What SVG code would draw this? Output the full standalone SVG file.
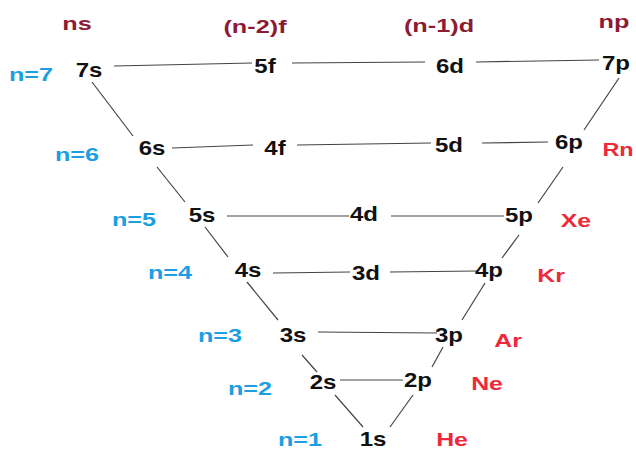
<svg xmlns="http://www.w3.org/2000/svg" width="636" height="451" viewBox="0 0 636 451">
<style>
text{font-family:"Liberation Sans",Arial,sans-serif;font-weight:bold;text-anchor:middle}
.o{font-size:20px;fill:#111}
.n{font-size:18px;fill:#1b9fe2}
.e{font-size:18px;fill:#ee2a3a}
.h{font-size:19px;fill:#8c1c34}
.c line{stroke:#444;stroke-width:1.2;fill:none}
</style>
<rect width="636" height="451" fill="#fff"/>
<g id="connectors" class="c">
<line x1="114" y1="66" x2="252" y2="63"/>
<line x1="292" y1="63" x2="425" y2="62"/>
<line x1="476" y1="62" x2="599" y2="60"/>
<line x1="172" y1="148" x2="253" y2="145"/>
<line x1="297" y1="145" x2="431" y2="143"/>
<line x1="482" y1="143" x2="548" y2="142"/>
<line x1="227" y1="216" x2="349" y2="216"/>
<line x1="391" y1="216" x2="504" y2="216"/>
<line x1="273" y1="273" x2="350" y2="272"/>
<line x1="390" y1="272" x2="477" y2="271"/>
<line x1="318" y1="332" x2="437" y2="333"/>
<line x1="340" y1="380" x2="403" y2="380"/>
<line x1="92" y1="82" x2="133" y2="136"/>
<line x1="157" y1="167" x2="185" y2="202"/>
<line x1="205" y1="227" x2="228" y2="257"/>
<line x1="247" y1="282" x2="278" y2="320"/>
<line x1="302" y1="355" x2="317" y2="372"/>
<line x1="335" y1="395" x2="363" y2="427"/>
<line x1="619" y1="78" x2="584" y2="130"/>
<line x1="563" y1="167" x2="538" y2="203"/>
<line x1="519" y1="235" x2="502" y2="258"/>
<line x1="485" y1="283" x2="462" y2="320"/>
<line x1="443" y1="347" x2="432" y2="367"/>
<line x1="413" y1="395" x2="390" y2="427"/>
</g>
<g id="headers">
<text class="h" transform="matrix(1.33 0 0 1 77 30)">ns</text>
<text class="h" transform="matrix(1.33 0 0 1 255 33)">(n-2)f</text>
<text class="h" transform="matrix(1.33 0 0 1 439 32)">(n-1)d</text>
<text class="h" transform="matrix(1.33 0 0 1 614 28)">np</text>
</g>
<g id="shells">
<text class="n" transform="matrix(1.4 0 0 1 31 81)">n=7</text>
<text class="n" transform="matrix(1.4 0 0 1 77 161)">n=6</text>
<text class="n" transform="matrix(1.4 0 0 1 134 226)">n=5</text>
<text class="n" transform="matrix(1.4 0 0 1 170 279)">n=4</text>
<text class="n" transform="matrix(1.4 0 0 1 220 342)">n=3</text>
<text class="n" transform="matrix(1.4 0 0 1 250 395)">n=2</text>
<text class="n" transform="matrix(1.4 0 0 1 300 446)">n=1</text>
</g>
<g id="gases">
<text class="e" transform="matrix(1.3 0 0 1 618 156)">Rn</text>
<text class="e" transform="matrix(1.38 0 0 1 576 227)">Xe</text>
<text class="e" transform="matrix(1.38 0 0 1 551 282)">Kr</text>
<text class="e" transform="matrix(1.38 0 0 1 508 347)">Ar</text>
<text class="e" transform="matrix(1.38 0 0 1 487 390)">Ne</text>
<text class="e" transform="matrix(1.38 0 0 1 452 446)">He</text>
</g>
<g id="o7s"><text class="o" transform="matrix(1.2 0 0 1 89 77)">7s</text></g>
<g id="o5f"><text class="o" transform="matrix(1.2 0 0 1 265 73)">5f</text></g>
<g id="o6d"><text class="o" transform="matrix(1.2 0 0 1 450 73)">6d</text></g>
<g id="o7p"><text class="o" transform="matrix(1.2 0 0 1 616 70)">7p</text></g>
<g id="o6s"><text class="o" transform="matrix(1.2 0 0 1 152 155)">6s</text></g>
<g id="o4f"><text class="o" transform="matrix(1.2 0 0 1 275 155)">4f</text></g>
<g id="o5d"><text class="o" transform="matrix(1.2 0 0 1 449 152)">5d</text></g>
<g id="o6p"><text class="o" transform="matrix(1.2 0 0 1 569 149)">6p</text></g>
<g id="o5s"><text class="o" transform="matrix(1.2 0 0 1 202 222)">5s</text></g>
<g id="o4d"><text class="o" transform="matrix(1.2 0 0 1 364 221)">4d</text></g>
<g id="o5p"><text class="o" transform="matrix(1.2 0 0 1 519 222)">5p</text></g>
<g id="o4s"><text class="o" transform="matrix(1.2 0 0 1 248 277)">4s</text></g>
<g id="o3d"><text class="o" transform="matrix(1.2 0 0 1 366 280)">3d</text></g>
<g id="o4p"><text class="o" transform="matrix(1.2 0 0 1 489 277)">4p</text></g>
<g id="o3s"><text class="o" transform="matrix(1.2 0 0 1 293 342)">3s</text></g>
<g id="o3p"><text class="o" transform="matrix(1.2 0 0 1 449 342)">3p</text></g>
<g id="o2s"><text class="o" transform="matrix(1.2 0 0 1 323 389)">2s</text></g>
<g id="o2p"><text class="o" transform="matrix(1.2 0 0 1 418 387)">2p</text></g>
<g id="o1s"><text class="o" transform="matrix(1.2 0 0 1 373 446)">1s</text></g>
</svg>
